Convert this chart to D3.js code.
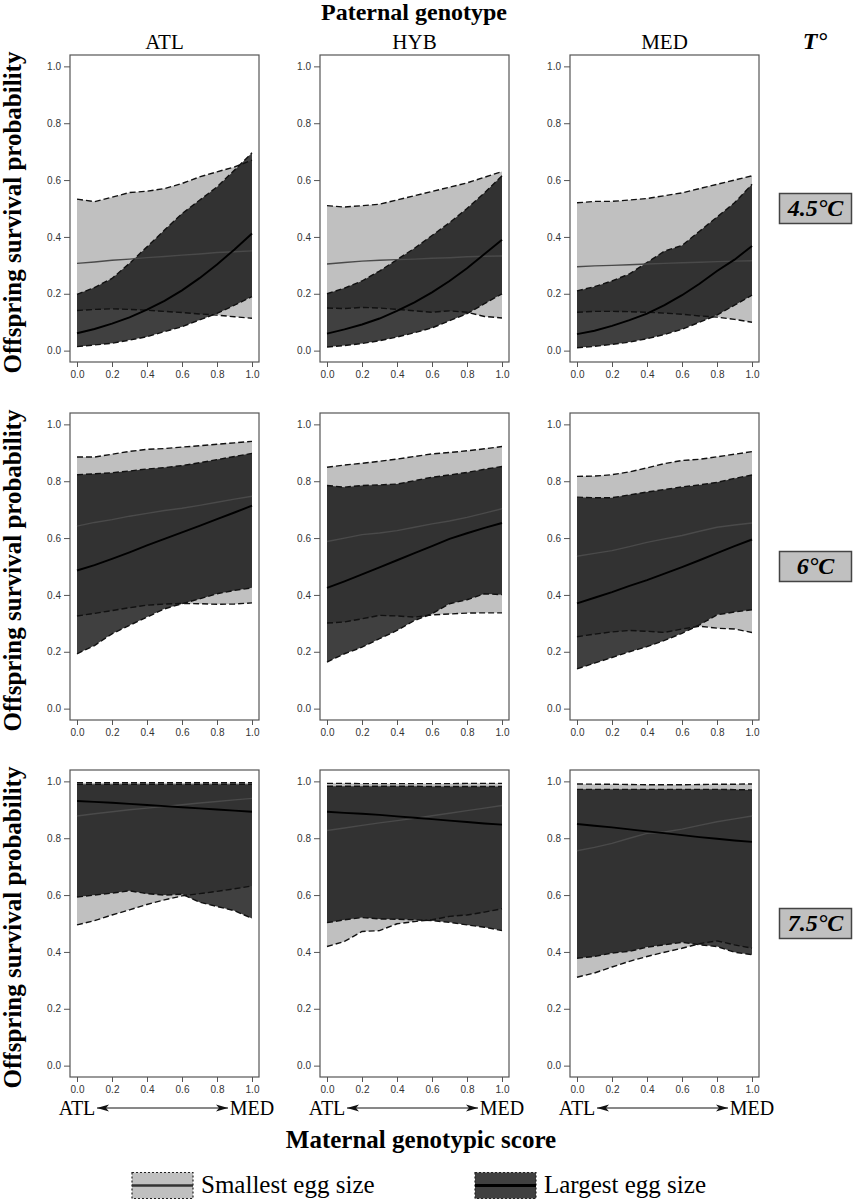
<!DOCTYPE html>
<html>
<head>
<meta charset="utf-8">
<script src="https://cdn.jsdelivr.net/npm/d3@7/dist/d3.min.js"></script>
<style>
  body { margin: 0; background: #fff; }
  svg { display: block; }
</style>
</head>
<body>
<svg id="chart" width="853" height="1200"></svg>
<script>
// ---------- DATA ----------
const paternal = ["ATL", "HYB", "MED"];
const temps = ["4.5°C", "6°C", "7.5°C"];
const xScore = [0, 0.1, 0.2, 0.3, 0.4, 0.5, 0.6, 0.7, 0.8, 0.9, 1.0];
const xTicks = [0, 0.2, 0.4, 0.6, 0.8, 1.0];
const yTicks = [0, 0.2, 0.4, 0.6, 0.8, 1.0];

// indexed [temperature row][paternal column]
const smallUpper = [
  [[0.533,0.524,0.54,0.556,0.561,0.57,0.588,0.611,0.629,0.646,0.67],
   [0.51,0.505,0.51,0.515,0.53,0.545,0.56,0.575,0.59,0.61,0.63],
   [0.52,0.525,0.525,0.53,0.535,0.545,0.555,0.57,0.585,0.6,0.615]],
  [[0.885,0.885,0.895,0.905,0.912,0.915,0.92,0.925,0.93,0.935,0.94],
   [0.849,0.857,0.863,0.87,0.878,0.887,0.896,0.901,0.907,0.914,0.922],
   [0.817,0.818,0.823,0.833,0.847,0.862,0.873,0.877,0.886,0.895,0.904]],
  [[0.995,0.995,0.995,0.995,0.995,0.995,0.995,0.995,0.995,0.995,0.995],
   [0.993,0.993,0.992,0.992,0.992,0.992,0.992,0.992,0.993,0.993,0.993],
   [0.991,0.99,0.99,0.989,0.988,0.988,0.988,0.989,0.99,0.99,0.991]]
];
const smallMean = [
  [[0.307,0.312,0.318,0.322,0.327,0.331,0.336,0.34,0.345,0.348,0.351],
   [0.305,0.31,0.315,0.318,0.32,0.322,0.325,0.327,0.33,0.332,0.333],
   [0.295,0.298,0.3,0.302,0.305,0.307,0.309,0.311,0.313,0.315,0.316]],
  [[0.642,0.655,0.665,0.677,0.687,0.697,0.705,0.715,0.726,0.737,0.747],
   [0.588,0.6,0.612,0.618,0.626,0.638,0.65,0.66,0.673,0.688,0.703],
   [0.536,0.546,0.556,0.57,0.585,0.597,0.609,0.624,0.638,0.646,0.653]],
  [[0.878,0.886,0.893,0.9,0.906,0.912,0.918,0.924,0.929,0.935,0.94],
   [0.827,0.836,0.845,0.854,0.862,0.87,0.879,0.888,0.897,0.906,0.915],
   [0.756,0.768,0.782,0.8,0.817,0.822,0.832,0.845,0.858,0.868,0.878]]
];
const smallLower = [
  [[0.141,0.145,0.147,0.145,0.142,0.138,0.134,0.129,0.125,0.119,0.114],
   [0.15,0.148,0.152,0.15,0.145,0.14,0.135,0.14,0.135,0.12,0.115],
   [0.135,0.138,0.138,0.137,0.135,0.132,0.128,0.122,0.118,0.11,0.1]],
  [[0.326,0.335,0.345,0.355,0.364,0.368,0.37,0.369,0.367,0.368,0.372],
   [0.301,0.305,0.316,0.328,0.326,0.322,0.33,0.333,0.336,0.337,0.337],
   [0.253,0.262,0.27,0.275,0.272,0.268,0.28,0.29,0.283,0.28,0.268]],
  [[0.495,0.51,0.53,0.548,0.567,0.583,0.597,0.605,0.613,0.622,0.632],
   [0.419,0.437,0.472,0.475,0.499,0.507,0.513,0.525,0.53,0.54,0.552],
   [0.311,0.326,0.347,0.367,0.384,0.399,0.413,0.429,0.439,0.425,0.413]]
];
const largeUpper = [
  [[0.198,0.222,0.254,0.307,0.365,0.424,0.482,0.529,0.576,0.635,0.696],
   [0.2,0.22,0.245,0.28,0.32,0.36,0.405,0.45,0.5,0.555,0.615],
   [0.21,0.225,0.245,0.27,0.31,0.35,0.37,0.42,0.47,0.52,0.585]],
  [[0.823,0.826,0.83,0.836,0.843,0.848,0.855,0.865,0.876,0.887,0.898],
   [0.785,0.779,0.785,0.787,0.79,0.802,0.814,0.822,0.831,0.842,0.852],
   [0.744,0.742,0.742,0.752,0.762,0.771,0.78,0.787,0.796,0.81,0.822]],
  [[0.99,0.99,0.99,0.99,0.99,0.99,0.99,0.99,0.99,0.99,0.99],
   [0.983,0.983,0.983,0.983,0.983,0.983,0.982,0.982,0.982,0.982,0.982],
   [0.972,0.972,0.972,0.972,0.972,0.972,0.972,0.972,0.972,0.971,0.97]]
];
const largeMean = [
  [[0.061,0.076,0.095,0.117,0.144,0.175,0.212,0.255,0.303,0.356,0.412],
   [0.06,0.075,0.092,0.113,0.14,0.17,0.205,0.245,0.29,0.34,0.39],
   [0.058,0.07,0.087,0.107,0.13,0.16,0.195,0.235,0.28,0.32,0.368]],
  [[0.486,0.505,0.527,0.55,0.574,0.597,0.62,0.643,0.667,0.69,0.714],
   [0.425,0.448,0.472,0.497,0.522,0.547,0.572,0.597,0.617,0.636,0.653],
   [0.37,0.39,0.41,0.432,0.452,0.475,0.498,0.522,0.547,0.572,0.595]],
  [[0.931,0.928,0.925,0.921,0.917,0.913,0.909,0.905,0.901,0.897,0.893],
   [0.893,0.889,0.886,0.882,0.877,0.872,0.867,0.862,0.857,0.852,0.848],
   [0.85,0.844,0.838,0.831,0.824,0.818,0.811,0.804,0.798,0.792,0.787]]
];
const largeLower = [
  [[0.014,0.02,0.026,0.037,0.049,0.067,0.084,0.108,0.131,0.16,0.19],
   [0.013,0.018,0.025,0.035,0.048,0.063,0.08,0.105,0.13,0.165,0.2],
   [0.01,0.015,0.022,0.03,0.042,0.057,0.075,0.1,0.125,0.16,0.195]],
  [[0.193,0.222,0.263,0.293,0.322,0.351,0.369,0.386,0.404,0.416,0.425],
   [0.164,0.193,0.216,0.246,0.275,0.31,0.334,0.369,0.383,0.404,0.401],
   [0.14,0.16,0.18,0.2,0.218,0.24,0.265,0.295,0.33,0.34,0.348]],
  [[0.593,0.6,0.607,0.615,0.605,0.6,0.603,0.575,0.56,0.545,0.518],
   [0.503,0.513,0.521,0.516,0.515,0.513,0.51,0.504,0.495,0.487,0.475],
   [0.378,0.384,0.396,0.402,0.417,0.425,0.434,0.425,0.419,0.399,0.39]]
];
const legendLabels = ["Smallest egg size", "Largest egg size"];

// ---------- LAYOUT ----------
const svg = d3.select("#chart");
const serif = "'Liberation Serif', 'Times New Roman', serif";
const sans = "'Liberation Sans', Arial, sans-serif";
const colLeft = [70, 320, 570];
const rowTop = [55, 413, 770];
const pw = 189, ph = 307;
const lightFill = "#c0c0c0";
const darkFill = "rgba(10,10,10,0.78)";

const defs = svg.append("defs");
defs.append("marker")
  .attr("id", "arrowhead")
  .attr("viewBox", "0 0 12 8")
  .attr("refX", 12).attr("refY", 4)
  .attr("markerWidth", 12).attr("markerHeight", 8)
  .attr("markerUnits", "userSpaceOnUse")
  .attr("orient", "auto-start-reverse")
  .append("path")
  .attr("d", "M0,0.5 L12,4 L0,7.5 L3,4 Z")
  .attr("fill", "#111");

temps.forEach((t, r) => {
  paternal.forEach((p, c) => {
    const x = d3.scaleLinear().domain([-0.04, 1.04]).range([colLeft[c], colLeft[c] + pw]);
    const y = d3.scaleLinear().domain([-0.04, 1.04]).range([rowTop[r] + ph, rowTop[r]]);
    const g = svg.append("g");

    const band = (lo, hi) => d3.area()
      .x((d, i) => x(xScore[i]))
      .y0((d, i) => y(lo[i]))
      .y1((d, i) => y(hi[i]))(xScore);
    const line = arr => d3.line()
      .x((d, i) => x(xScore[i]))
      .y((d, i) => y(arr[i]))(xScore);

    g.append("path").attr("d", band(smallLower[r][c], smallUpper[r][c])).attr("fill", lightFill);
    g.append("path").attr("d", band(largeLower[r][c], largeUpper[r][c])).attr("fill", darkFill);

    [smallUpper, smallLower, largeUpper, largeLower].forEach(s => {
      g.append("path").attr("d", line(s[r][c]))
        .attr("fill", "none").attr("stroke", "#111")
        .attr("stroke-width", 1.4).attr("stroke-dasharray", "6,3");
    });
    g.append("path").attr("d", line(smallMean[r][c]))
      .attr("fill", "none").attr("stroke", "#4a4a4a").attr("stroke-width", 1.4);
    g.append("path").attr("d", line(largeMean[r][c]))
      .attr("fill", "none").attr("stroke", "#000").attr("stroke-width", 1.9);

    // frame
    g.append("rect")
      .attr("x", colLeft[c]).attr("y", rowTop[r])
      .attr("width", pw).attr("height", ph)
      .attr("fill", "none").attr("stroke", "#555").attr("stroke-width", 1.2);

    // axes
    const ya = g.append("g").attr("transform", `translate(${colLeft[c]},0)`)
      .call(d3.axisLeft(y).tickValues(yTicks).tickFormat(d3.format(".1f")).tickSize(6).tickPadding(3));
    const xa = g.append("g").attr("transform", `translate(0,${rowTop[r] + ph})`)
      .call(d3.axisBottom(x).tickValues(xTicks).tickFormat(d3.format(".1f")).tickSize(5).tickPadding(4));
    [ya, xa].forEach(a => {
      a.select(".domain").remove();
      a.selectAll("line").attr("stroke", "#555");
      a.selectAll("text").attr("fill", "#333").style("font-family", sans).style("font-size", "10px");
    });

    if (r === 0) {
      svg.append("text").attr("x", colLeft[c] + pw / 2).attr("y", 49)
        .attr("text-anchor", "middle").style("font-family", serif).style("font-size", "21px")
        .text(p);
    }
    if (r === 2) {
      const yy = 1115;
      svg.append("text").attr("x", x(0)).attr("y", yy).attr("text-anchor", "middle")
        .style("font-family", serif).style("font-size", "20px").text("ATL");
      svg.append("text").attr("x", x(1)).attr("y", yy).attr("text-anchor", "middle")
        .style("font-family", serif).style("font-size", "20px").text("MED");
      svg.append("line")
        .attr("x1", x(0) + 20).attr("x2", x(1) - 24)
        .attr("y1", yy - 7).attr("y2", yy - 7)
        .attr("stroke", "#111").attr("stroke-width", 1)
        .attr("marker-start", "url(#arrowhead)")
        .attr("marker-end", "url(#arrowhead)");
    }
  });

  // y label
  const cy = rowTop[r] + ph / 2 + 4;
  svg.append("text")
    .attr("transform", `translate(21,${cy}) rotate(-90)`)
    .attr("text-anchor", "middle")
    .style("font-family", serif).style("font-size", "25px").style("font-weight", "bold")
    .text("Offspring survival probability");

  // temperature box
  const by = [193, 551, 908][r];
  svg.append("rect").attr("x", 779.5).attr("y", by + 0.5).attr("width", 72).attr("height", 30)
    .attr("fill", lightFill).attr("stroke", "#444").attr("stroke-width", 1.5);
  svg.append("text").attr("x", 815.5).attr("y", by + 23)
    .attr("text-anchor", "middle")
    .style("font-family", serif).style("font-size", "24px")
    .style("font-weight", "bold").style("font-style", "italic")
    .text(t);
});

// titles
svg.append("text").attr("x", 414).attr("y", 20).attr("text-anchor", "middle")
  .style("font-family", serif).style("font-size", "24px").style("font-weight", "bold")
  .text("Paternal genotype");
svg.append("text").attr("x", 815).attr("y", 49).attr("text-anchor", "middle")
  .style("font-family", serif).style("font-size", "24px").style("font-weight", "bold")
  .style("font-style", "italic").text("T°");
svg.append("text").attr("x", 421).attr("y", 1148).attr("text-anchor", "middle")
  .style("font-family", serif).style("font-size", "25px").style("font-weight", "bold")
  .text("Maternal genotypic score");

// legend
const legX = [132, 475];
const legFill = ["#c0c0c0", "#404040"];
const legLine = ["#333", "#000"];
legendLabels.forEach((lab, i) => {
  const g = svg.append("g");
  g.append("rect").attr("x", legX[i]).attr("y", 1172.5).attr("width", 61).attr("height", 26)
    .attr("fill", legFill[i]).attr("stroke", "#222").attr("stroke-width", 1.2)
    .attr("stroke-dasharray", "2,2");
  g.append("line").attr("x1", legX[i]).attr("x2", legX[i] + 61)
    .attr("y1", 1185.5).attr("y2", 1185.5)
    .attr("stroke", legLine[i]).attr("stroke-width", i === 0 ? 2.5 : 3);
  g.append("text").attr("x", legX[i] + 69).attr("y", 1193)
    .style("font-family", serif).style("font-size", "25px").text(lab);
});
</script>
</body>
</html>
